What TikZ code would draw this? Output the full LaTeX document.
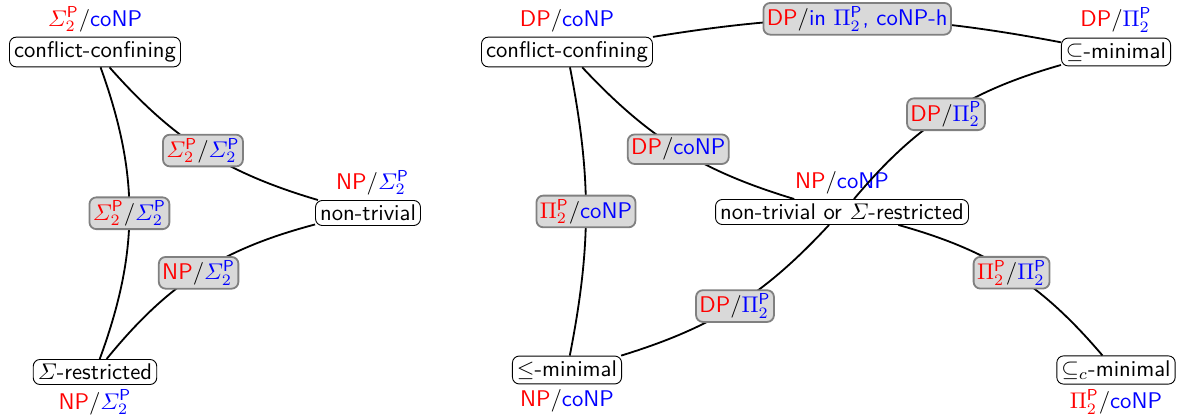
\documentclass[tikz,border=0pt]{standalone}
\usepackage{amsmath, amssymb}
\usepackage{tikz}
\usetikzlibrary{positioning}
\usepackage{xcolor}
\renewcommand{\familydefault}{\sfdefault}
\newcommand{\rosso}[1]{\textcolor{red}{#1}}
\newcommand{\blu}[1]{\textcolor{blue}{#1}}
\newcommand{\SigP}{$\varSigma^{\mathsf{P}}_2$}
\newcommand{\PiP}{$\Pi^{\mathsf{P}}_2$}
\tikzset{
  problema/.style = {draw, rounded corners = 3pt, inner sep = 2pt, fill = white},
  compl/.style = {draw = gray, thick, fill = black!15, rounded corners = 3pt, inner sep = 1.5pt},
  etic/.style = {inner sep = 1pt},
  arco/.style = {thick}
}

\begin{document}
\begin{tikzpicture}[x = 0.0155cm, y = 0.0155cm]
    \useasboundingbox (0,0) rectangle (1187,420);
    % Problemi (a sinistra)
    \node[problema] (cc) at (95,368) {conflict-confining};
    \node[problema] (nt) at (368,207) {non-trivial};
    \node[problema] (sr) at (95,48) {$\varSigma$-restricted};
    % etichette
    \node[etic, above = 1pt of cc] (cclab) {\rosso{\SigP}/\blu{coNP}};
    \node[etic, above = 1pt of nt, xshift = 2pt] (ntlab) {\rosso{NP}/\blu{\SigP}};
    \node[etic, below = 1pt of sr] (srlab) {\rosso{NP}/\blu{\SigP}};
    % Archi (a sinistra)
    \draw[arco] (cc) to[bend left = 20] node[compl] (ccsr) {\rosso{\SigP}/\blu{\SigP}} (sr);
    \draw[arco] (cc) to[bend right = 16] node[compl] (ccnt) {\rosso{\SigP}/\blu{\SigP}} (nt);
    \draw[arco] (sr) to[bend left = 18] node[compl] (srnt) {\rosso{NP}/\blu{\SigP}} (nt);
    % Problemi (a destra)
    \node[problema] (ccd) at (567,368) {conflict-confining};
    \node[problema] (sub) at (1116,368) {$\subseteq$-minimal};
    \node[problema] (nts) at (842,208) {non-trivial or $\varSigma$-restricted};
    \node[problema] (leq) at (567,50) {$\leq$-minimal};
    \node[problema] (subc) at (1116,50) {$\subseteq_c$-minimal};
    % etichette
    \node[etic, above = 1pt of ccd] (ccdlab) {\rosso{DP}/\blu{coNP}};
    \node[etic, above = 1pt of sub] (sublab) {\rosso{DP}/\blu{\PiP}};
    \node[etic, above = 1pt of nts] (ntslab) {\rosso{NP}/\blu{coNP}};
    \node[etic, below = 1pt of leq] (leqlab) {\rosso{NP}/\blu{coNP}};
    \node[etic, below = 1pt of subc] (subclab) {\rosso{\PiP}/\blu{coNP}};
    % Archi (a destra)
    \draw[arco] (ccd) to[bend left = 10] node[compl] (ccdsub) {\rosso{DP}/\blu{in \PiP, coNP-h}} (sub);
    \draw[arco] (ccd) to[bend left = 11] node[compl] (ccdleq) {\rosso{\PiP}/\blu{coNP}} (leq);
    \draw[arco] (ccd) to[bend right = 15] node[compl] (ccdnts) {\rosso{DP}/\blu{coNP}} (nts);
    \draw[arco] (sub) to[bend right = 17] node[compl] (subnts) {\rosso{DP}/\blu{\PiP}} (nts);
    \draw[arco] (nts) to[bend left = 17] node[compl] (ntssubc) {\rosso{\PiP}/\blu{\PiP}} (subc);
    \draw[arco] (leq) to[bend right = 15] node[compl] (leqnts) {\rosso{DP}/\blu{\PiP}} (nts);
\end{tikzpicture}
\end{document}
